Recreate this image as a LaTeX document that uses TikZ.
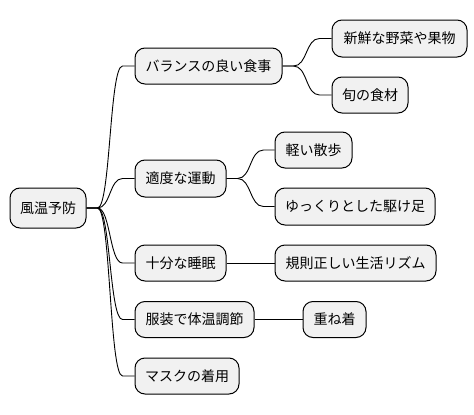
\documentclass[tikz,border=0pt]{standalone}
\usepackage{fontspec}
\setmainfont{Noto Sans CJK JP}
\usetikzlibrary{calc}
\definecolor{boxfill}{HTML}{F1F1F1}
\definecolor{txt}{HTML}{000000}
\begin{document}
\begin{tikzpicture}[x=1pt,y=-1pt,
  topic/.style={draw=black, line width=1pt, fill=boxfill, rounded corners=10pt,
    inner sep=0pt, font=\fontsize{14pt}{16pt}\selectfont, text=txt, anchor=center},
  link/.style={draw=black, line width=0.9pt}]
\useasboundingbox (0,0) rectangle (474,415);
% root
\node[topic, minimum width=76pt, minimum height=40pt] (r) at (48,208) {風温予防};
% level 1
\node[topic, minimum width=147pt, minimum height=36pt] (b1) at (208.5,66) {バランスの良い食事};
\node[topic, minimum width=91pt, minimum height=37pt] (b2) at (180.5,178.5) {適度な運動};
\node[topic, minimum width=91pt, minimum height=36pt] (b3) at (180.5,263) {十分な睡眠};
\node[topic, minimum width=119pt, minimum height=36pt] (b4) at (194.5,319.5) {服装で体温調節};
\node[topic, minimum width=104pt, minimum height=36pt] (b5) at (187,376) {マスクの着用};
% level 2
\node[topic, minimum width=135pt, minimum height=37pt] (c1) at (399.5,38.5) {新鮮な野菜や果物};
\node[topic, minimum width=76pt, minimum height=36pt] (c2) at (370,95) {旬の食材};
\node[topic, minimum width=77pt, minimum height=36pt] (c3) at (313.5,150) {軽い散歩};
\node[topic, minimum width=160pt, minimum height=37pt] (c4) at (355,206.5) {ゆっくりとした駆け足};
\node[topic, minimum width=161pt, minimum height=36pt] (c5) at (355.5,263) {規則正しい生活リズム};
\node[topic, minimum width=63pt, minimum height=36pt] (c6) at (334.5,319.5) {重ね着};
% connectors from root
\foreach \t in {b1,b2,b3,b4,b5}{
  \draw[link] (r.east) -- ++(11,0) .. controls +(13,0) and +(-13,0) .. ($(\t.west)+(-12,0)$) -- (\t.west);
}
% level 1 to level 2
\foreach \t in {c1,c2}{
  \draw[link] (b1.east) -- ++(11,0) .. controls +(14,0) and +(-14,0) .. ($(\t.west)+(-12,0)$) -- (\t.west);
}
\foreach \t in {c3,c4}{
  \draw[link] (b2.east) -- ++(11,0) .. controls +(14,0) and +(-14,0) .. ($(\t.west)+(-11,0)$) -- (\t.west);
}
\draw[link] (b3.east) -- (c5.west);
\draw[link] (b4.east) -- (c6.west);
\end{tikzpicture}
\end{document}
